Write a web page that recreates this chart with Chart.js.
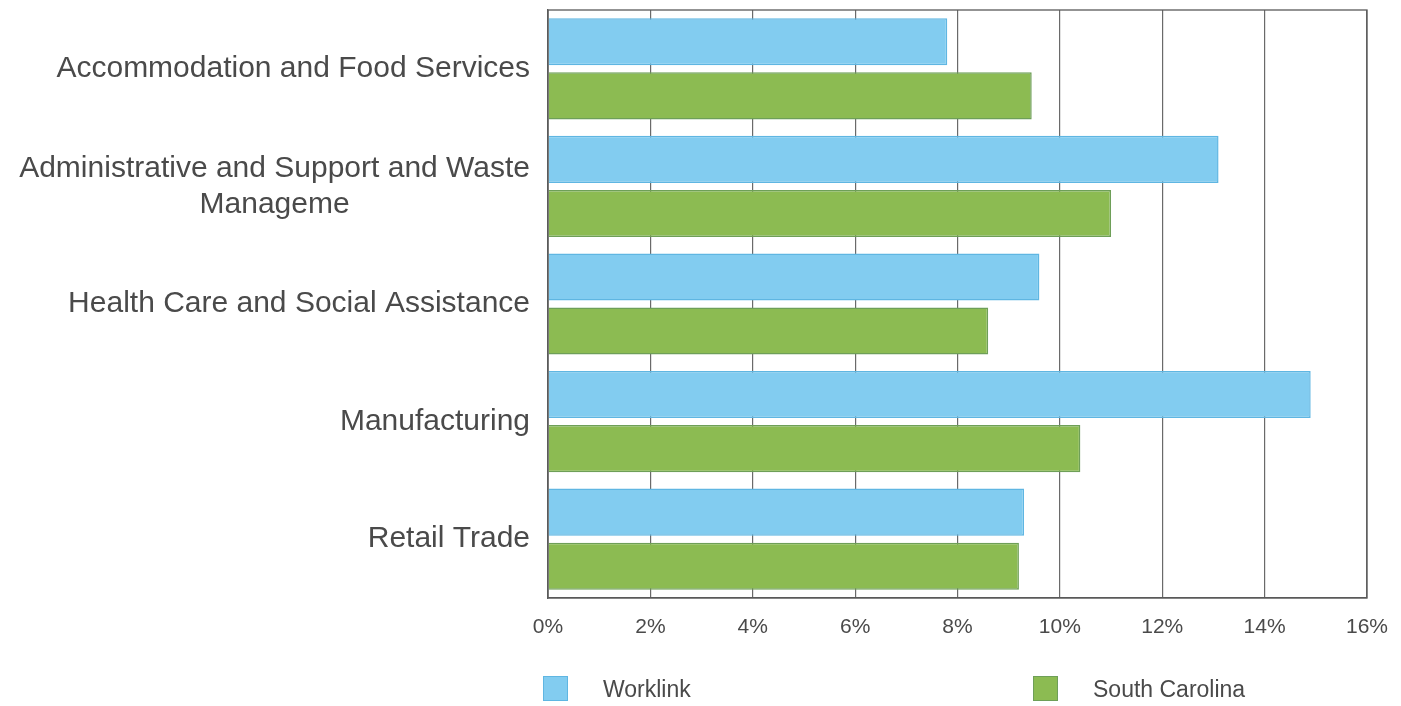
<!DOCTYPE html>
<html>
<head>
<meta charset="utf-8">
<script src="https://cdn.jsdelivr.net/npm/chart.js@4/dist/chart.umd.min.js"></script>
<style>
  html, body { margin: 0; padding: 0; background: #fff; }
  #wrap { position: relative; width: 1401px; height: 706px; }
  .key { position: absolute; top: 676px; height: 25px; font-family: "Liberation Sans", Arial, sans-serif; font-size: 23px; color: #4a4a4a; }
  .key span.sw { position: absolute; left: 0; top: 0; width: 25px; height: 25px; box-sizing: border-box; border: 1px solid; }
  .key span.tx { position: absolute; top: 1px; line-height: 25px; white-space: nowrap; }
</style>
</head>
<body>
<div id="wrap">
  <canvas id="industryChart"></canvas>
  <div class="key" style="left:543px"><span class="sw" id="sw0"></span><span class="tx" id="tx0" style="left:60px"></span></div>
  <div class="key" style="left:1033px"><span class="sw" id="sw1"></span><span class="tx" id="tx1" style="left:60px"></span></div>
</div>
<script>
"use strict"

// DATA -----------------------
const industries = [
	"Accommodation and Food Services",
	["Administrative and Support and Waste", "Manageme"],
	"Health Care and Social Assistance",
	"Manufacturing",
	"Retail Trade",
]

const seriesNames = ["Worklink", "South Carolina"]

const worklink = [7.8, 13.1, 9.6, 14.9, 9.3]
const southCarolina = [9.45, 11.0, 8.6, 10.4, 9.2]

const xTicks = [0, 2, 4, 6, 8, 10, 12, 14, 16]

const fills = ["#82ccf0", "#8cbb52"]
const edges = ["#5fb6e2", "#6e9f58"]

const textColor = "#4a4a4a"
const fontFamily = "'Liberation Sans', Arial, sans-serif"

// legend (html, spread like the original)
for (let i = 0; i < seriesNames.length; i++) {
	document.getElementById("sw" + i).style.background = fills[i]
	document.getElementById("sw" + i).style.borderColor = edges[i]
	document.getElementById("tx" + i).textContent = seriesNames[i]
}

// draws the frame and the category labels (block right aligned, lines centred)
const framePlugin = {
	id: "frame",
	afterDraw(chart) {
		const ctx = chart.ctx
		const a = chart.chartArea
		ctx.save()
		ctx.strokeStyle = "#5a5a5a"
		ctx.lineWidth = 1.3
		ctx.strokeRect(a.left, a.top, a.right - a.left, a.bottom - a.top)

		const y = chart.scales.y
		ctx.font = "30px " + fontFamily
		ctx.fillStyle = textColor
		ctx.textAlign = "center"
		ctx.textBaseline = "middle"
		const lineH = 36
		const rightEdge = a.left - 18
		industries.forEach(function (label, i) {
			const lines = Array.isArray(label) ? label : [label]
			let widest = 0
			lines.forEach(function (l) {
				widest = Math.max(widest, ctx.measureText(l).width)
			})
			const cx = rightEdge - widest / 2
			const cy = y.getPixelForValue(i)
			const start = cy - ((lines.length - 1) * lineH) / 2
			lines.forEach(function (l, k) {
				ctx.fillText(l, cx, start + k * lineH)
			})
		})
		ctx.restore()
	},
}

// CHART -----------------------
new Chart(document.getElementById("industryChart"), {
	type: "bar",
	data: {
		labels: industries,
		datasets: [
			{
				label: seriesNames[0],
				data: worklink,
				backgroundColor: fills[0],
				borderColor: edges[0],
				borderWidth: 1.5,
				categoryPercentage: 0.92,
				barPercentage: 0.87,
			},
			{
				label: seriesNames[1],
				data: southCarolina,
				backgroundColor: fills[1],
				borderColor: edges[1],
				borderWidth: 1.5,
				categoryPercentage: 0.92,
				barPercentage: 0.87,
			},
		],
	},
	options: {
		indexAxis: "y",
		responsive: true,
		maintainAspectRatio: false,
		animation: false,
		layout: { padding: { left: 0, top: 10, right: 34, bottom: 0 } },
		plugins: {
			legend: { display: false },
			tooltip: { enabled: false },
		},
		scales: {
			x: {
				min: 0,
				max: 16,
				afterBuildTicks: function (scale) {
					scale.ticks = xTicks.map(function (v) { return { value: v } })
				},
				afterFit: function (scale) {
					scale.height = 108
					scale.paddingLeft = 0
					scale.paddingRight = 0
				},
				grid: { color: "#6a6a6a", lineWidth: 1.2, drawTicks: false },
				border: { color: "#5a5a5a", width: 1.3 },
				ticks: {
					padding: 17,
					color: textColor,
					font: { family: fontFamily, size: 21 },
					callback: function (v) { return v + "%" },
				},
			},
			y: {
				afterFit: function (scale) { scale.width = 548 },
				grid: { display: false },
				border: { color: "#5a5a5a", width: 1.3 },
				ticks: { display: false },
			},
		},
	},
	plugins: [framePlugin],
})
</script>
</body>
</html>
